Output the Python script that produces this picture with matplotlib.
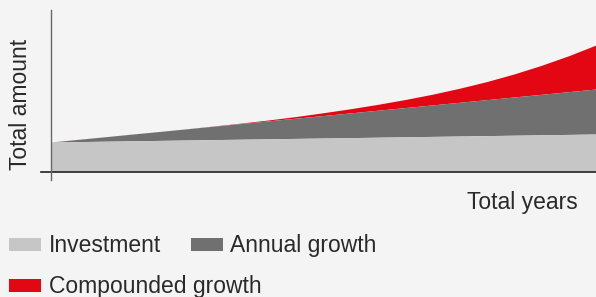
import numpy as np
import matplotlib.pyplot as plt
from matplotlib.patches import Rectangle

# values (arbitrary units), one per year
years = list(range(21))
investment = [29.5, 29.9, 30.3, 30.7, 31.1, 31.5, 31.9, 32.3, 32.7, 33.1, 33.5,
              33.9, 34.3, 34.7, 35.1, 35.5, 35.9, 36.3, 36.7, 37.1, 37.5]
with_annual = [29.5, 32.15, 34.8, 37.45, 40.1, 42.75, 45.4, 48.05, 50.7, 53.35, 56.0,
               58.65, 61.3, 63.95, 66.6, 69.25, 71.9, 74.55, 77.2, 79.85, 82.5]
total = [29.5, 32.2, 34.8, 37.5, 40.1, 42.8, 45.6, 48.5, 51.6, 55.0, 58.8,
         62.8, 67.2, 72.0, 77.3, 83.3, 90.0, 97.6, 106.2, 115.8, 126.5]

labels = ["Investment", "Annual growth", "Compounded growth"]
colors = ["#c6c6c6", "#707070", "#e30613"]

bg = "#f4f4f4"
plt.rcParams["font.family"] = ["Liberation Sans", "DejaVu Sans"]

fig = plt.figure(figsize=(5.96, 2.97), dpi=100, facecolor=bg)
W, H = 596, 297
ax = fig.add_axes([51 / W, (H - 171.5) / H, 545 / W, 161.5 / H])
ax.set_facecolor(bg)

yrs = np.array(years)
inv = np.array(investment)
ann = np.array(with_annual)
tot = np.array(total)

ax.fill_between(yrs, ann, tot, color=colors[2], lw=0)
ax.fill_between(yrs, inv, ann, color=colors[1], lw=0)
ax.fill_between(yrs, 0, inv, color=colors[0], lw=0)

ax.set_xlim(0, 20)
ax.set_ylim(0, 161.5)
for s in ax.spines.values():
    s.set_visible(False)
ax.set_xticks([])
ax.set_yticks([])

# axis lines, extending a little past the origin
ax.plot([-10 / 545, 1], [0, 0], transform=ax.transAxes, color="#222222",
        lw=1.2, clip_on=False)
ax.plot([0, 0], [-8.5 / 161.5, 1], transform=ax.transAxes, color="#666666",
        lw=1.0, clip_on=False)

txt = "#2a2a2a"
fs = 16.5
fig.text(21 / W, 1 - 104 / H, "Total amount", rotation=90, ha="center",
         va="center", fontsize=fs, color=txt)
fig.text(578 / W, 1 - 209 / H, "Total years", ha="right", va="baseline",
         fontsize=fs, color=txt)

# legend drawn by hand
items = [(9, 238, 49, 252), (191, 238, 230, 252), (9, 279, 49, 293)]
for (px, py, tx, ty), lab, c in zip(items, labels, colors):
    fig.patches.append(Rectangle((px / W, 1 - (py + 13) / H), 32 / W, 13 / H,
                                 transform=fig.transFigure, color=c, lw=0))
    fig.text(tx / W, 1 - ty / H, lab, ha="left", va="baseline",
             fontsize=fs, color=txt)

fig.savefig("out.png", dpi=100, facecolor=bg)
